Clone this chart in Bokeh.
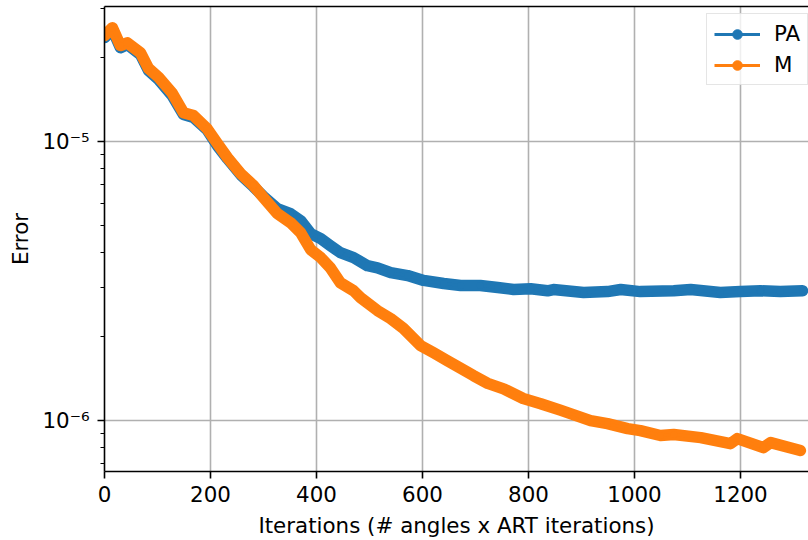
from bokeh.plotting import figure
from bokeh.models import (Range1d, FixedTicker, CustomJSTickFormatter, Legend, LegendItem,
                          LinearAxis, ColumnDataSource)
from bokeh.embed import file_html
from bokeh.resources import INLINE

# ---- data ----
pa_iter = [0, 15, 30, 43, 68, 83, 102, 128, 149, 168, 194, 213, 232, 257, 281, 300, 326, 351,
           370, 389, 408, 426, 445, 470, 496, 515, 540, 572, 602, 640, 672, 709, 742, 772, 804,
           836, 847, 904, 949, 974, 1011, 1074, 1106, 1162, 1200, 1238, 1275, 1317]
pa_error = [2.36e-5, 2.52e-5, 2.17e-5, 2.23e-5, 2.05e-5, 1.80e-5, 1.67e-5, 1.46e-5, 1.25e-5,
            1.22e-5, 1.10e-5, 9.67e-6, 8.69e-6, 7.61e-6, 6.90e-6, 6.35e-6, 5.75e-6, 5.52e-6,
            5.21e-6, 4.68e-6, 4.49e-6, 4.24e-6, 4.00e-6, 3.84e-6, 3.59e-6, 3.53e-6, 3.39e-6,
            3.31e-6, 3.18e-6, 3.10e-6, 3.05e-6, 3.05e-6, 3.00e-6, 2.95e-6, 2.97e-6, 2.92e-6,
            2.95e-6, 2.88e-6, 2.90e-6, 2.95e-6, 2.90e-6, 2.92e-6, 2.95e-6, 2.88e-6, 2.90e-6,
            2.92e-6, 2.90e-6, 2.92e-6]

m_iter = [0, 15, 30, 43, 68, 83, 102, 128, 149, 168, 194, 213, 232, 257, 281, 300, 326, 351,
          370, 389, 408, 426, 445, 470, 483, 515, 540, 564, 596, 621, 647, 672, 696, 723, 753,
          790, 823, 860, 917, 949, 987, 1011, 1049, 1074, 1125, 1181, 1194, 1243, 1257, 1313]
m_error = [2.40e-5, 2.56e-5, 2.21e-5, 2.26e-5, 2.08e-5, 1.83e-5, 1.70e-5, 1.49e-5, 1.27e-5,
           1.24e-5, 1.11e-5, 9.84e-6, 8.76e-6, 7.68e-6, 6.96e-6, 6.30e-6, 5.52e-6, 5.12e-6,
           4.72e-6, 4.10e-6, 3.84e-6, 3.53e-6, 3.12e-6, 2.92e-6, 2.76e-6, 2.48e-6, 2.32e-6,
           2.14e-6, 1.86e-6, 1.75e-6, 1.64e-6, 1.54e-6, 1.45e-6, 1.36e-6, 1.30e-6, 1.20e-6,
           1.15e-6, 1.09e-6, 1.00e-6, 9.75e-7, 9.36e-7, 9.21e-7, 8.84e-7, 8.91e-7, 8.69e-7,
           8.27e-7, 8.62e-7, 8.00e-7, 8.34e-7, 7.81e-7]

series_labels = ["PA", "M"]
series_colors = ["#1f77b4", "#ff7f0e"]

x_ticks = [0, 200, 400, 600, 800, 1000, 1200]
y_major_ticks = [1e-6, 1e-5]
y_minor_ticks = [7e-7, 8e-7, 9e-7, 2e-6, 3e-6, 4e-6, 5e-6, 6e-6, 7e-6, 8e-6, 9e-6, 2e-5, 3e-5]

FONT = "DejaVu Sans"
FS = "21.4px"

p = figure(width=808, height=540, y_axis_type="log", output_backend="svg",
           toolbar_location=None, x_range=Range1d(0, 1328.3),
           y_range=Range1d(6.57e-7, 3.05e-5),
           min_border_left=104, min_border_right=0, min_border_top=6, min_border_bottom=69)
p.outline_line_color = None
p.background_fill_color = "white"
p.border_fill_color = "white"

# axes
xa = p.xaxis[0]
ya = p.yaxis[0]
xa.ticker = FixedTicker(ticks=x_ticks)
ya.ticker = FixedTicker(ticks=y_major_ticks, minor_ticks=y_minor_ticks)
ya.formatter = CustomJSTickFormatter(code="""
const e = Math.round(Math.log10(tick));
const m = {"-":"\u207b","0":"\u2070","1":"\u00b9","2":"\u00b2","3":"\u00b3","4":"\u2074",
           "5":"\u2075","6":"\u2076","7":"\u2077","8":"\u2078","9":"\u2079"};
return "10" + String(e).split("").map(c => m[c]).join("");
""")
xa.axis_label = "Iterations (# angles x ART iterations)"
ya.axis_label = "Error"
for ax in (xa, ya):
    ax.axis_line_width = 1.6
    ax.axis_line_color = "black"
    ax.major_tick_line_width = 1.6
    ax.major_tick_out = 7
    ax.major_tick_in = 0
    ax.minor_tick_line_width = 1.2
    ax.minor_tick_out = 4
    ax.minor_tick_in = 0
    ax.major_label_text_font = FONT
    ax.major_label_text_font_size = FS
    ax.major_label_text_color = "black"
    ax.axis_label_text_font = FONT
    ax.axis_label_text_font_size = FS
    ax.axis_label_text_font_style = "normal"
    ax.axis_label_text_color = "black"
xa.major_label_standoff = 7
xa.axis_label_standoff = 8
ya.major_label_standoff = 8
ya.axis_label_standoff = 6

# top spine
top = LinearAxis(ticker=FixedTicker(ticks=[]), major_label_text_font_size="0px",
                 major_tick_line_color=None, minor_tick_line_color=None,
                 major_label_standoff=0, axis_line_width=1.6, axis_line_color="black")
p.add_layout(top, "above")

# grid
p.xgrid.grid_line_color = "#b0b0b0"
p.xgrid.grid_line_width = 1.6
p.ygrid.grid_line_color = "#b0b0b0"
p.ygrid.grid_line_width = 1.6

items = []
for xs, ys, lab, col in [(pa_iter, pa_error, series_labels[0], series_colors[0]),
                         (m_iter, m_error, series_labels[1], series_colors[1])]:
    src = ColumnDataSource(dict(x=xs, y=ys))
    p.line("x", "y", source=src, line_color=col, line_width=11.5,
           line_join="round", line_cap="round")
    thin = p.line("x", "y", source=src, line_color=col, line_width=3)
    dots = p.scatter("x", "y", source=src, marker="circle", size=7,
                     fill_color=col, line_color=col)
    items.append(LegendItem(label=lab, renderers=[thin, dots]))

legend = Legend(items=items, location=(602, 386), padding=7, spacing=6,
                glyph_width=46, glyph_height=24, label_height=24, label_standoff=14,
                label_text_font=FONT, label_text_font_size=FS, label_text_color="black",
                border_line_color="#cccccc", border_line_width=1.6,
                background_fill_color="white", background_fill_alpha=0.8,
                margin=0)
p.add_layout(legend, "center")

open("out.html", "w", encoding="utf-8").write(file_html(p, INLINE))
